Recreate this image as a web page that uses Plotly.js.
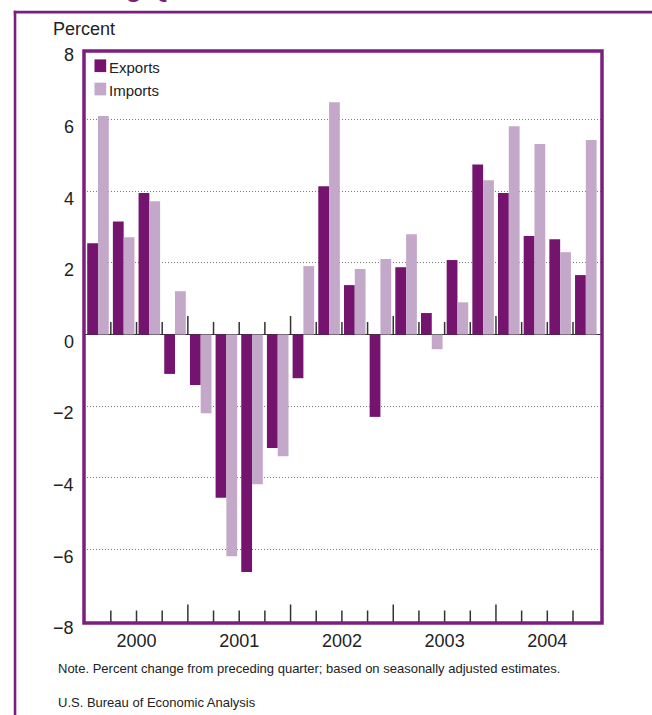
<!DOCTYPE html>
<html>
<head>
<meta charset="utf-8">
<script src="https://cdn.plot.ly/plotly-3.0.1.min.js"></script>
<style>
  html, body { margin: 0; padding: 0; background: #fff; }
  #chart { width: 652px; height: 715px; }
</style>
</head>
<body>
<div id="chart"></div>
<script>
// ---- Data ----
const quarters = [
  '2000 Q1','2000 Q2','2000 Q3','2000 Q4',
  '2001 Q1','2001 Q2','2001 Q3','2001 Q4',
  '2002 Q1','2002 Q2','2002 Q3','2002 Q4',
  '2003 Q1','2003 Q2','2003 Q3','2003 Q4',
  '2004 Q1','2004 Q2','2004 Q3','2004 Q4'
];
const years = ['2000', '2001', '2002', '2003', '2004'];
const exportsPct = [2.55, 3.16, 3.95, -1.10, -1.41, -4.56, -6.63, -3.17, -1.22, 4.14,
                    1.38, -2.30, 1.88, 0.60, 2.08, 4.75, 3.95, 2.75, 2.66, 1.66];
const importsPct = [6.10, 2.72, 3.72, 1.21, -2.20, -6.19, -4.18, -3.40, 1.91, 6.49,
                    1.83, 2.11, 2.80, -0.41, 0.90, 4.31, 5.82, 5.32, 2.30, 5.43];
const seriesNames = ['Exports', 'Imports'];
const yTicks = [-8, -6, -4, -2, 0, 2, 4, 6, 8];
const yAxisLabel = 'Percent';
const titleText = 'Preceding Quarter';
const noteText = 'Note. Percent change from preceding quarter; based on seasonally adjusted estimates.';
const sourceText = 'U.S. Bureau of Economic Analysis';

// ---- Styles ----
const colExport = '#74146f';
const colImport = '#c4a8c9';
const colFrame = '#7b1f7e';
const colText = '#222222';
const FONT = 'Liberation Sans, Arial, Helvetica, sans-serif';

const W = 652, H = 715;
const L = 83.5, R = 601.7, T = 47.6, B = 623;
const FRAME_TOP = 50.5;
const pw = R - L, ph = B - T;
const px = v => (v - L) / pw;        // pixel x -> paper x
const py = v => (B - v) / ph;        // pixel y -> paper y

const xIdx = quarters.map((q, i) => i);

const traces = [
  { type: 'bar', name: seriesNames[0], x: xIdx, y: exportsPct,
    marker: { color: colExport, line: { width: 0 } }, hoverinfo: 'skip' },
  { type: 'bar', name: seriesNames[1], x: xIdx, y: importsPct,
    marker: { color: colImport, line: { width: 0 } }, hoverinfo: 'skip' }
];

const shapes = [];
const annotations = [];

// tick marks at quarter boundaries (on zero line and on bottom frame)
for (let i = 0; i < quarters.length - 1; i++) {
  const b = i + 0.5;
  const isYear = (i + 1) % 4 === 0;
  const h = isYear ? 18.5 : 12.5;
  shapes.push({ type: 'line', xref: 'x', x0: b, x1: b,
    yref: 'y', ysizemode: 'pixel', yanchor: 0, y0: 0, y1: h,
    line: { color: '#333', width: 1.5 }, layer: 'above' });
  shapes.push({ type: 'line', xref: 'x', x0: b, x1: b,
    yref: 'paper', ysizemode: 'pixel', yanchor: 0, y0: 0, y1: h,
    line: { color: '#333', width: 1.5 }, layer: 'above' });
}

// plot frame
shapes.push({ type: 'rect', xref: 'paper', yref: 'paper', x0: 0, x1: 1, y0: 0, y1: py(FRAME_TOP),
  line: { color: colFrame, width: 3.5 }, fillcolor: 'rgba(0,0,0,0)', layer: 'above' });

// outer page frame (left and top rules)
shapes.push({ type: 'line', xref: 'paper', yref: 'paper',
  x0: px(14.5), x1: px(14.5), y0: py(10.3), y1: py(730),
  line: { color: colFrame, width: 2.6 } });
shapes.push({ type: 'line', xref: 'paper', yref: 'paper',
  x0: px(13.2), x1: px(670), y0: py(11.7), y1: py(11.7),
  line: { color: colFrame, width: 2.8 } });

// legend (manual)
const legendCols = [colExport, colImport];
const legendTop = [59, 82.3];
seriesNames.forEach((n, k) => {
  shapes.push({ type: 'rect', xref: 'paper', yref: 'paper',
    x0: px(94), x1: px(105.7), y0: py(legendTop[k]), y1: py(legendTop[k] + 12.7),
    fillcolor: legendCols[k], line: { width: 0 } });
  annotations.push({ text: n, xref: 'paper', yref: 'paper',
    x: px(108.5), y: py(legendTop[k] + 8.3), xanchor: 'left', yanchor: 'middle',
    showarrow: false, borderpad: 0, borderwidth: 0,
    font: { family: FONT, size: 15, color: colText } });
});

// y tick labels
yTicks.forEach(v => {
  annotations.push({ text: v < 0 ? '\u2212' + Math.abs(v) : String(v),
    xref: 'paper', x: px(73.5), xanchor: 'right',
    yref: 'y', y: v, yanchor: 'middle', yshift: -7.2,
    showarrow: false, borderpad: 0, borderwidth: 0,
    font: { family: FONT, size: 18, color: colText } });
});

// axis unit label
annotations.push({ text: yAxisLabel, xref: 'paper', yref: 'paper',
  x: px(52), y: py(29), xanchor: 'left', yanchor: 'middle',
  showarrow: false, borderpad: 0, borderwidth: 0,
  font: { family: FONT, size: 18, color: colText } });

// cut-off title at the very top
annotations.push({ text: '<b>' + titleText + '</b>', xref: 'paper', yref: 'paper',
  x: px(15), y: py(-12), xanchor: 'left', yanchor: 'middle',
  showarrow: false, borderpad: 0, borderwidth: 0,
  font: { family: FONT, size: 26, color: colFrame } });

// note and source
annotations.push({ text: noteText, xref: 'paper', yref: 'paper',
  x: px(57), y: py(669), xanchor: 'left', yanchor: 'middle',
  showarrow: false, borderpad: 0, borderwidth: 0,
  font: { family: FONT, size: 13, color: colText } });
annotations.push({ text: sourceText, xref: 'paper', yref: 'paper',
  x: px(57), y: py(702.5), xanchor: 'left', yanchor: 'middle',
  showarrow: false, borderpad: 0, borderwidth: 0,
  font: { family: FONT, size: 13, color: colText } });

const layout = {
  width: W, height: H,
  margin: { l: L, r: W - R, t: T, b: H - B, pad: 0 },
  paper_bgcolor: '#ffffff', plot_bgcolor: '#ffffff',
  showlegend: false,
  barmode: 'group', bargap: 0.16, bargroupgap: 0,
  font: { family: FONT, color: colText },
  xaxis: {
    range: [-0.545, 19.63], showgrid: false, zeroline: false, showline: false,
    ticks: '', tickmode: 'array',
    tickvals: years.map((y, k) => k * 4 + 1.5), ticktext: years,
    tickfont: { family: FONT, size: 18, color: colText },
    ticklabelstandoff: 5,
    fixedrange: true
  },
  yaxis: {
    range: [-8.056, 8.002], tickmode: 'array',
    tickvals: yTicks.filter(v => Math.abs(v) < 8 && v !== 0),
    showticklabels: false, ticks: '',
    showgrid: true, gridcolor: '#777', gridwidth: 1, griddash: '1px,2px',
    zeroline: true, zerolinecolor: '#333', zerolinewidth: 1.6,
    showline: false, fixedrange: true
  },
  shapes: shapes,
  annotations: annotations
};

Plotly.newPlot('chart', traces, layout, { staticPlot: true, displayModeBar: false });
</script>
</body>
</html>
